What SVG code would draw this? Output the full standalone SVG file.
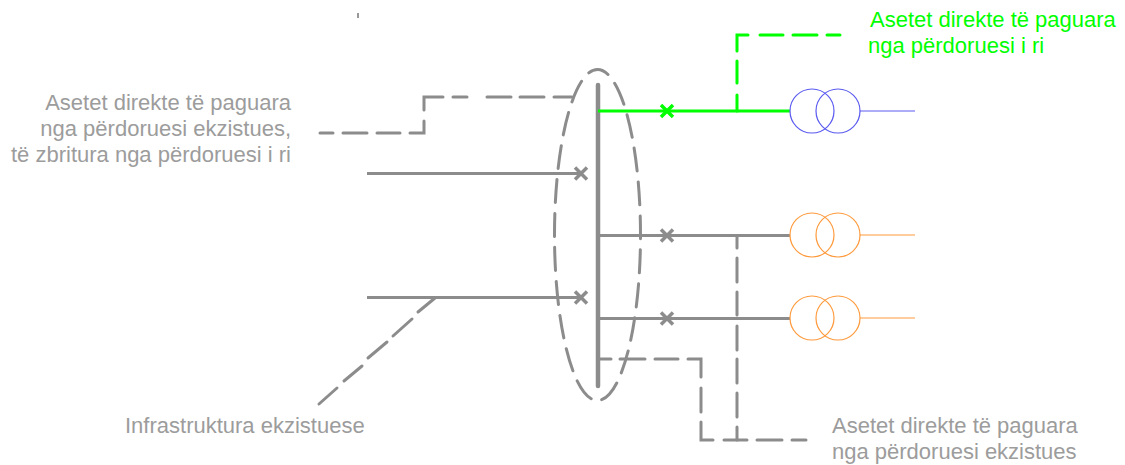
<svg xmlns="http://www.w3.org/2000/svg" width="1125" height="465" viewBox="0 0 1125 465">
<style>
.g{fill:none;stroke:#8c8c8c;stroke-width:3}
.x{fill:none;stroke:#8c8c8c;stroke-width:3.500}
.d{fill:none;stroke:#8c8c8c;stroke-width:3;stroke-linecap:round}
.gr{fill:none;stroke:#00ff00;stroke-width:3}
.grx{fill:none;stroke:#00ff00;stroke-width:3.500}
.grd{fill:none;stroke:#00ff00;stroke-width:3;stroke-linecap:round}
.blue{fill:none;stroke:#5a5af0;stroke-width:1.200}
.or{fill:none;stroke:#ff9a3c;stroke-width:1.200}
text{font-family:"Liberation Sans",Arial,sans-serif;font-size:22px;fill:#9c9c9c}
.tg{fill:#00ff00}
</style>
<path id="tick" d="M358 13V18" stroke="#333" stroke-width="1" fill="none"/>
<g id="connectors">
<path class="d" d="M597.5 69.500A43 165.500 0 0 1 597.500 400.500A43 165.500 0 0 1 597.500 69.500Z" stroke-dasharray="23 11" stroke-dashoffset="11"/>
<path d="M598 85V386" fill="none" stroke="#8c8c8c" stroke-width="4.500" stroke-linecap="round"/>
<path class="g" d="M367 173.500H581M367 297.500H581M598 235.500H790M598 318.500H790"/>
<path class="gr" d="M598 111H790"/>
<path class="grd" d="M737 111V95M737 83V61M737 51V35H748M760 35H783M793 35H817M827 35H840"/>
<path class="d" d="M320 133H333M343 133H367M377 133H400M410 133H424V121M424 110V97H443M453 97H467M487 97H511M520 97H544M554 97H572"/>
<path class="d" d="M598 359H611M620 359H645M655 359H678M688 359H701V377M701 388V412M701 422V440H713M724 440H747M757 440H782M792 440H806"/>
<path class="d" d="M737 237V248M737 258V282M737 292V315M737 326V350M737 359V383M737 393V417M737 427V440"/>
<path class="d" d="M435 298L418 312M412 319L393 336M387 342L368 358M362 366L344 381M337 388L319 404"/>
<path class="x" d="M575 167.500L587 179.500M587 167.500L575 179.500M575 291.500L587 303.500M587 291.500L575 303.500M661 229.500L673 241.500M673 229.500L661 241.500M661 312.500L673 324.500M673 312.500L661 324.500"/>
<path class="grx" d="M661 105L673 117M673 105L661 117"/>
</g>
<g id="t1"><circle class="blue" cx="812" cy="111" r="22"/><circle class="blue" cx="838" cy="111" r="22"/><path class="blue" d="M860 111H915"/></g>
<g id="t2"><circle class="or" cx="812" cy="235" r="22"/><circle class="or" cx="838" cy="235" r="22"/><path class="or" d="M860 235H915"/></g>
<g id="t3"><circle class="or" cx="812" cy="318" r="22"/><circle class="or" cx="838" cy="318" r="22"/><path class="or" d="M860 318H915"/></g>
<g id="label-existing-less-new"><text x="291" y="110" text-anchor="end">Asetet direkte të paguara</text><text x="291" y="136" text-anchor="end">nga përdoruesi ekzistues,</text><text x="291" y="162" text-anchor="end">të zbritura nga përdoruesi i ri</text></g>
<g id="label-new"><text class="tg" x="870" y="27">Asetet direkte të paguara</text><text class="tg" x="868" y="53">nga përdoruesi i ri</text></g>
<g id="label-infra"><text x="125" y="432.500">Infrastruktura ekzistuese</text></g>
<g id="label-existing"><text x="832" y="433">Asetet direkte të paguara</text><text x="832" y="458.500">nga përdoruesi ekzistues</text></g>
</svg>
